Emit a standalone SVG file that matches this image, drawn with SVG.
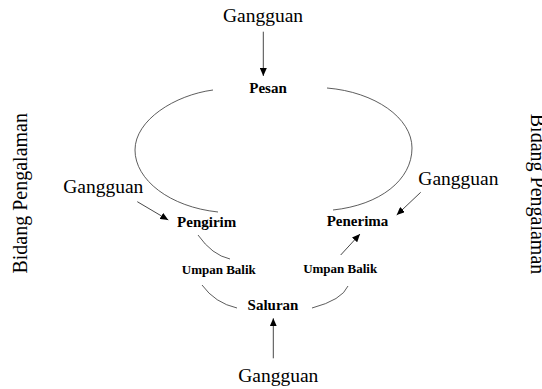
<svg xmlns="http://www.w3.org/2000/svg" width="542" height="389" viewBox="0 0 542 389">
<defs>
<marker id="ah" viewBox="0 0 8 7" refX="8" refY="3.5" markerWidth="8" markerHeight="7" markerUnits="userSpaceOnUse" orient="auto">
<path d="M0,0 L8,3.5 L0,7 Z" fill="#000"/>
</marker>
<style>
.g{font-family:"Liberation Serif","Times New Roman",serif;font-size:19.5px;fill:#000;text-anchor:middle}
.b{font-family:"Liberation Serif","Times New Roman",serif;font-size:15px;font-weight:bold;fill:#000;text-anchor:middle}
.s{font-family:"Liberation Serif","Times New Roman",serif;font-size:13px;font-weight:bold;fill:#000;text-anchor:middle}
.side{font-family:"Liberation Serif","Times New Roman",serif;font-size:20px;fill:#000;text-anchor:middle}
.arc{fill:none;stroke:#333;stroke-width:0.8}
.arr{fill:none;stroke:#333;stroke-width:0.9;marker-end:url(#ah)}
</style>
</defs>
<rect width="542" height="389" fill="#fff"/>
<g id="connectors">
<path class="arc" d="M213,90 C175,95 135,120 135,150 C135,180 170,207 218,212"/>
<path class="arc" d="M327,88 C375,92 412,118 412,148 C412,180 380,205 333,210"/>
<path class="arc" d="M198,235 Q212,255 230,259"/>
<path class="arc" d="M202,285 Q215,303 237,308"/>
<path class="arc" d="M312,308 Q342,300 348,286"/>
<line class="arr" x1="263.3" y1="31.7" x2="263.3" y2="76"/>
<line class="arr" x1="137.3" y1="201.7" x2="168.3" y2="220"/>
<line class="arr" x1="420.7" y1="192.3" x2="396.7" y2="215"/>
<line class="arr" x1="273.3" y1="358.3" x2="273.3" y2="318.3"/>
<line class="arr" x1="340.7" y1="255" x2="360" y2="234"/>
</g>
<g id="gangguan-top"><text class="g" x="263" y="21.7">Gangguan</text></g>
<g id="gangguan-left"><text class="g" x="103.3" y="193.3">Gangguan</text></g>
<g id="gangguan-right"><text class="g" x="458.4" y="185">Gangguan</text></g>
<g id="gangguan-bottom"><text class="g" x="278.3" y="381.7">Gangguan</text></g>
<g id="pesan"><text class="b" x="268" y="93.3">Pesan</text></g>
<g id="pengirim"><text class="b" x="206.7" y="226.7">Pengirim</text></g>
<g id="penerima"><text class="b" x="357.5" y="225.7">Penerima</text></g>
<g id="umpan-balik-left"><text class="s" x="218.8" y="274.3">Umpan Balik</text></g>
<g id="umpan-balik-right"><text class="s" x="340.2" y="273.3">Umpan Balik</text></g>
<g id="saluran"><text class="b" x="273" y="309.7">Saluran</text></g>
<g id="bidang-left"><text class="side" transform="translate(26.5,193.3) rotate(-90)">Bidang Pengalaman</text></g>
<g id="bidang-right"><text class="side" transform="translate(530.5,194) rotate(90)">Bidang Pengalaman</text></g>
</svg>
